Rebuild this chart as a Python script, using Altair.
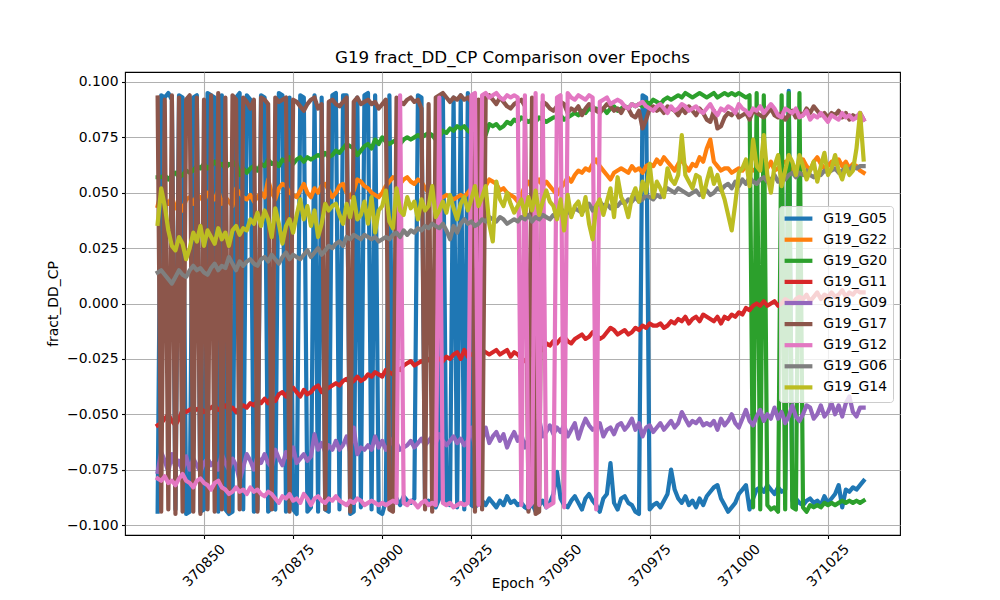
import altair as alt
import pandas as pd

EPOCHS = list(range(370837, 371036))
SERIES = ["G19_G05", "G19_G22", "G19_G20", "G19_G11", "G19_G09",
          "G19_G17", "G19_G12", "G19_G06", "G19_G14"]
COLORS = ["#1f77b4", "#ff7f0e", "#2ca02c", "#d62728", "#9467bd",
          "#8c564b", "#e377c2", "#7f7f7f", "#bcbd22"]
X_TICKS = [370850, 370875, 370900, 370925, 370950, 370975, 371000, 371025]
Y_TICKS = [-0.1, -0.075, -0.05, -0.025, 0.0, 0.025, 0.05, 0.075, 0.1]

# values in thousandths of fract_DD_CP, one per epoch
G05 = [-94, 94, 93, 95, 92, -93, 94, 93, -95, -94,
       93, 94, -94, -93, 95, 94, 93, -94, 94, -93,
       -95, -94, 93, 95, -93, 94, 92, -94, -93, 94,
       93, -94, -92, -93, 95, 94, -94, 93, -93, -95,
       94, 93, -94, -92, 94, -94, 93, -93, -94, 94,
       95, -93, 94, 94, -95, -94, 93, -92, 94, 95,
       -93, 94, -94, -95, -89, 94, -90, -88, -91, -87,
       -89, -90, -88, 94, 93, -91, -89, -90, -92, -88,
       94, -90, -91, 93, -92, 94, -93, 95, -91, -92,
       -90, -89, -91, -88, -90, -92, -89, -91, -87, -90,
       -89, -91, -90, -92, -93, -90, -94, -91, -89, -92,
       -90, -86, -76, -88, -91, -92, -89, -87, -90, -93,
       -88, -86, -89, -91, -94, -88, -86, -72, -90, -93,
       -88, -87, -90, -91, -94, -95, 94, 93, -93, -91,
       -90, -92, -89, -86, -75, -84, -88, -90, -87, -91,
       -89, -92, -88, -91, -87, -85, -83, -82, -88, -91,
       -94, -92, -90, -86, -84, -82, -93, -88, -84, -83,
       -85, -82, -84, -86, -83, -85, -84, 96, -89, -88,
       -90, -91, -89, -88, -90, -89, -91, -87, -90, -88,
       -86, -82, -92, -84, -85, -83, -84, -82, -80]

G22 = [44, 51, 47, 45, 48, 43, 46, 42, 47, 48,
       45, 49, 48, 46, 50, 49, 47, 51, 45, 48,
       46, 44, 52, 50, 48, 47, 49, 46, 48, 50,
       48, 56, 50, 47, 52, 54, 53, 50, 49, 48,
       51, 54, 50, 48, 52, 50, 53, 54, 51, 48,
       50, 53, 54, 50, 48, 51, 56, 55, 53, 52,
       50, 49, 48, 50, 53, 55, 57, 56, 54, 56,
       57, 55, 54, 56, 55, 52, 50, 49, 48, 47,
       48, 49, 48, 47, 48, 49, 48, 50, 52, 60,
       57, 55, 53, 56, 55, 54, 51, 52, 50, 49,
       48, 46, 49, 53, 55, 52, 54, 56, 53, 55,
       53, 51, 49, 52, 54, 57, 55, 58, 60, 59,
       61, 60, 63, 65, 62, 60, 58, 56, 59, 60,
       61, 60, 59, 62, 60, 61, 59, 62, 63, 62,
       65, 63, 66, 64, 62, 60, 63, 65, 62, 60,
       63, 62, 66, 64, 70, 74, 64, 62, 60, 61,
       61, 59, 60, 61, 60, 62, 61, 60, 61, 62,
       63, 61, 64, 60, 61, 63, 64, 62, 60, 61,
       63, 65, 62, 60, 64, 66, 63, 61, 62, 64,
       63, 65, 62, 64, 61, 63, 62, 60, 59]

G20 = [57, 57, 58, 56, 58, 59, 57, 58, 60, 59,
       60, 62, 61, 63, 61, 62, 64, 62, 63, 61,
       63, 62, 64, 58, 61, 59, 61, 62, 60, 63,
       62, 65, 63, 64, 62, 65, 64, 66, 63, 65,
       66, 64, 66, 65, 66, 67, 66, 68, 66, 67,
       69, 68, 70, 72, 71, 70, 67, 69, 71, 72,
       70, 74, 72, 75, 73, 72, 73, 74, 72, 74,
       75, 74, 75, 76, 75, 76, 77, 76, 74, 75,
       78, 77, 79, 78, 80, 79, 80, 78, 77, 80,
       82, 79, 76, 81, 80, 81, 79, 80, 82, 81,
       83, 82, 84, 83, 82, 83, 82, 84, 83, 82,
       83, 84, 84, 85, 83, 84, 85, 86, 85, 87,
       86, 88, 87, 88, 87, 88, 86, 88, 89, 87,
       88, 89, 88, 90, 89, 90, 89, 91, 90, 92,
       91, 90, 92, 93, 92, 93, 94, 93, 95, 94,
       93, 94, 95, 94, 93, 94, 95, 93, 94, 95,
       94, 95, 94, 95, 94, 93, 94, -92, 95, -93,
       94, -91, -93, -92, -94, 94, -93, 95, -92, -93,
       95, -92, -94, -91, -92, -91, -92, -90, -91, -90,
       -91, -90, -89, -90, -89, -90, -89, -90, -89]

G11 = [-55, -54, -52, -50, -53, -55, -52, -48, -49, -48,
       -47, -48, -47, -49, -48, -47, -46, -48, -47, -46,
       -48, -47, -49, -47, -46, -47, -45, -46, -44, -45,
       -43, -45, -42, -44, -41, -40, -42, -39, -38, -40,
       -42, -39, -41, -40, -38, -37, -40, -39, -38, -37,
       -36, -37, -35, -34, -36, -35, -33, -35, -34, -32,
       -33, -31, -32, -33, -30, -31, -32, -29, -30, -28,
       -27, -26, -28, -27, -26, -27, -25, -26, -24, -25,
       -26, -24, -25, -23, -22, -25, -21, -24, -23, -22,
       -23, -21, -22, -23, -22, -21, -23, -22, -21, -24,
       -22, -23, -25, -26, -24, -23, -20, -19, -21, -18,
       -19, -17, -18, -16, -15, -17, -18, -16, -15, -14,
       -16, -15, -13, -14, -16, -15, -13, -11, -12, -14,
       -13, -12, -14, -13, -11, -12, -10, -11, -9, -10,
       -10, -9, -11, -10, -8, -9, -7, -8, -6, -9,
       -7, -6, -8, -5, -6, -7, -8, -6, -9, -6,
       -7, -5, -6, -4, -5, -2, -3, -1, 0, -1,
       1, -1, 0, 1, -1, 0, 2, 1, 0, 2,
       3, 2, 4, 1, 3, 5, 2, 4, 3, 5,
       3, 4, 6, 3, 5, 4, 6, 5, 5]

G09 = [-76, -67, -71, -76, -68, -74, -71, -76, -69, -75,
       -70, -73, -76, -72, -70, -73, -71, -75, -68, -72,
       -75, -70, -73, -80, -74, -68, -71, -75, -69, -72,
       -68, -72, -74, -66, -70, -73, -67, -71, -65, -72,
       -70, -68, -71, -69, -59, -66, -63, -67, -64, -66,
       -62, -66, -64, -60, -67, -56, -68, -65, -66, -64,
       -66, -60, -65, -62, -66, -64, -61, -63, -66, -65,
       -64, -62, -65, -63, -61, -64, -62, -60, -63, -59,
       -62, -64, -62, -60, -63, -61, -64, -62, -56, -65,
       -60, -62, -56, -63, -60, -58, -62, -59, -65, -61,
       -58, -62, -59, -65, -61, -60, -57, -52, -60, -58,
       -55, -59, -56, -58, -55, -60, -57, -54, -61, -56,
       -52, -55, -57, -56, -54, -60, -57, -56, -59, -55,
       -54, -57, -55, -52, -57, -54, -60, -56, -55, -58,
       -56, -54, -57, -55, -53, -56, -54, -49, -52, -55,
       -53, -54, -52, -55, -54, -55, -53, -57, -52, -55,
       -53, -50, -54, -56, -52, -48, -53, -55, -51, -48,
       -53, -50, -52, -47, -52, -49, -54, -51, -46, -51,
       -53, -50, -46, -47, -52, -50, -46, -51, -49, -45,
       -50, -46, -51, -45, -42, -49, -51, -47, -47]

G17 = [93, -94, 92, -93, 94, -95, 93, -94, 92, 94,
       -94, 93, -95, 92, -93, 94, -94, 95, -93, 93,
       -94, 94, 92, -93, 93, 91, 88, 92, -94, 93,
       92, 90, -93, 93, 91, 92, 93, -94, 92, 91,
       89, 87, 90, 92, 93, 88, 90, -93, 91, 92,
       90, 89, 91, 93, -94, 91, 93, 90, 91, 92,
       90, 91, 88, 90, 92, -93, -94, 93, 91, 90,
       92, 93, 91, 92, 88, -93, 90, -94, 93, 94,
       95, 93, 91, 93, 92, 94, 92, 93, 91, -94,
       92, -93, 93, 94, 92, 90, 93, 91, 89, 88,
       90, 91, 92, 89, -94, 93, -95, -94, 91, 90,
       88, 87, 89, 91, 90, 86, 88, 87, 89, 85,
       88, 90, 89, 87, 86, 88, 90, 89, 87, 88,
       86, 89, 88, 85, 84, 87, 79, 83, 88, 89,
       87, 88, 86, 89, 88, 87, 85, 88, 86, 89,
       87, 85, 88, 86, 83, 82, 87, 79, 80, 84,
       86, 85, 87, 84, 85, 86, 83, 87, 86, 85,
       84, 86, 88, 85, 84, 86, 83, 85, 87, 84,
       86, 85, 88, 86, 89, 87, 85, 86, 84, 86,
       85, 87, 84, 86, 83, 85, 84, 86, 83]

G12 = [-79, -80, -78, -81, -80, -82, -79, -77, -80, -81,
       -83, -80, -79, -81, -82, -84, -81, -80, -83, -84,
       -86, -85, -83, -85, -84, -86, -83, -85, -84, -86,
       -87, -85, -86, -88, -90, -87, -88, -86, -89, -88,
       -90, -86, -88, -91, -88, -87, -89, -90, -88, -89,
       -87, -89, -90, -91, -89, -90, -88, -89, -91, -90,
       -89, -90, -91, -90, -91, -90, -89, -90, 94, -90,
       -91, -89, -90, -92, -90, -89, -91, -90, -91, 93,
       -90, -91, -90, -92, -91, -90, -91, -90, 94, 95,
       -91, 94, 95, 93, 94, 95, 93, 92, 94, 93,
       94, 93, -91, 94, -92, -90, 95, -91, 94, -92,
       -91, -90, 93, 94, -92, 95, 93, 92, 94, 93,
       92, 94, 93, -93, 91, 92, 93, 90, 91, 92,
       91, 89, 88, 90, 89, 90, 91, 89, 88, 87,
       89, 90, 88, 86, 89, 87, 88, 90, 89, 87,
       88, 89, 87, 86, 88, 90, 87, 85, 88, 87,
       89, 88, 86, 90, 88, 87, 85, 88, 87, 89,
       86, 88, 90, 88, 85, 84, 88, 87, 86, 88,
       84, 85, 87, 83, 85, 84, 86, 84, 82, 85,
       84, 83, 86, 84, 85, 83, 84, 86, 83]

G06 = [14, 15, 13, 11, 9, 12, 15, 13, 12, 15,
       17, 15, 16, 14, 13, 16, 18, 15, 17, 16,
       21, 18, 15, 19, 17, 19, 20, 18, 17, 20,
       21, 19, 22, 20, 18, 21, 23, 20, 22, 21,
       20, 22, 24, 21, 23, 25, 22, 24, 26, 25,
       27, 28, 26, 30, 29, 31, 30, 29, 31, 30,
       29, 30, 28, 29, 30, 29, 31, 32, 30, 33,
       31, 33, 32, 34, 33, 35, 34, 36, 35, 34,
       36, 33, 29, 35, 32, 36, 38, 36, 37, 35,
       36, 38, 37, 39, 38, 37, 39, 38, 36, 37,
       38, 37, 39, 38, 40, 37, 39, 38, 40, 39,
       38, 40, 39, 43, 41, 42, 40, 43, 42, 41,
       43, 45, 42, 44, 46, 44, 45, 43, 45, 44,
       46, 45, 47, 46, 48, 46, 47, 49, 48, 47,
       49, 48, 50, 52, 51, 50, 52, 51, 50, 49,
       50, 51, 49, 50, 51, 49, 50, 52, 51, 53,
       54, 52, 55, 53, 56, 54, 57, 55, 54, 56,
       57, 55, 56, 58, 55, 57, 56, 58, 59, 57,
       59, 58, 60, 58, 57, 59, 58, 60, 59, 60,
       61, 59, 60, 61, 60, 62, 61, 62, 62]

G14 = [36, 52, 44, 33, 26, 24, 30, 27, 20, 25,
       32, 28, 35, 26, 33, 30, 27, 34, 29, 32,
       26, 33, 35, 31, 34, 33, 38, 36, 41, 35,
       42, 38, 30, 43, 36, 27, 35, 38, 32, 40,
       47, 38, 44, 35, 42, 30, 36, 45, 42, 44,
       45, 40, 36, 45, 39, 48, 38, 40, 46, 36,
       48, 32, 42, 44, 51, 37, 34, 52, 42, 40,
       48, 43, 46, 38, 47, 42, 44, 53, 39, 42,
       46, 41, 49, 43, 38, 45, 48, 42, 47, 53,
       44, 48, 53, 36, 28, 55, 47, 44, 50, 45,
       41, 44, 47, 40, 48, 42, 51, 40, 46, 51,
       46, 44, 38, 47, 33, 49, 39, 44, 46, 40,
       48, 36, 29, 44, 47, 40, 46, 52, 39, 57,
       48, 45, 39, 48, 52, 46, 55, 50, 63, 48,
       55, 52, 48, 61, 56, 54, 58, 76, 58, 55,
       52, 58, 57, 48, 55, 61, 54, 58, 52, 47,
       40, 33, 45, 59, 61, 65, 53, 74, 62, 60,
       76, 58, 50, 62, 67, 53, 60, 67, 64, 58,
       67, 62, 56, 60, 64, 55, 62, 68, 58, 61,
       67, 60, 56, 62, 58, 60, 70, 86, 65]

VALUES = {"G19_G05": G05, "G19_G22": G22, "G19_G20": G20, "G19_G11": G11,
          "G19_G09": G09, "G19_G17": G17, "G19_G12": G12, "G19_G06": G06,
          "G19_G14": G14}

rows = []
for name in SERIES:
    vals = VALUES[name]
    assert len(vals) == len(EPOCHS), (name, len(vals))
    for e, v in zip(EPOCHS, vals):
        rows.append({"Epoch": e, "value": v / 1000.0, "series": name})
df = pd.DataFrame(rows)

FONT = "DejaVu Sans"

x_enc = alt.X("Epoch:Q",
              scale=alt.Scale(domain=[370827.85, 371045.2], nice=False, zero=False),
              axis=alt.Axis(values=X_TICKS, format="d", labelAngle=-45,
                            labelAlign="center", labelBaseline="middle",
                            labelPadding=27, tickSize=3.5, title="Epoch",
                            titleY=41, titleBaseline="top",
                            labelOverlap=False, labelFlush=False))
y_enc = alt.Y("value:Q",
              scale=alt.Scale(domain=[-0.1045, 0.1045], nice=False, zero=False),
              axis=alt.Axis(values=Y_TICKS, format=".3f", tickSize=3.5,
                            labelPadding=3.5, title="fract_DD_CP",
                            titlePadding=5.6))
legend = alt.Legend(title=None, orient="none", legendX=654, legendY=134,
                    symbolType="M-2.93,0L2.93,0", symbolSize=90,
                    symbolStrokeWidth=4.2, symbolOffset=6.9, labelOffset=17.7,
                    rowPadding=3.1, labelFont=FONT, labelFontSize=13.9,
                    labelColor="black", padding=5.6,
                    fillColor="rgba(255,255,255,0.8)", strokeColor="#cccccc",
                    cornerRadius=3)
color_enc = alt.Color("series:N", scale=alt.Scale(domain=SERIES, range=COLORS),
                      legend=legend)

base = alt.Chart(df)
layers = []
for name in SERIES:
    layers.append(
        base.transform_filter(alt.datum.series == name)
        .mark_line(strokeWidth=4.2, strokeJoin="round", strokeCap="square")
        .encode(x=x_enc, y=y_enc, color=color_enc)
    )

chart = (
    alt.layer(*layers)
    .properties(
        width=775, height=463,
        title=alt.TitleParams("G19 fract_DD_CP Comparison over Epochs",
                              font=FONT, fontSize=16.7, fontWeight="normal",
                              color="black", anchor="middle",
                              baseline="alphabetic", offset=8.3, dy=16),
        padding={"left": 117, "top": 64, "right": 92, "bottom": 57},
        autosize=alt.AutoSizeParams(type="none"),
    )
    .configure_axis(labelFont=FONT, labelFontSize=13.9, labelColor="black",
                    titleFont=FONT, titleFontSize=13.9, titleFontWeight="normal",
                    titleColor="black", tickColor="black", tickWidth=1.1,
                    gridColor="#b0b0b0", gridWidth=1.1, gridOpacity=1,
                    domain=False)
    .configure_view(stroke="black", strokeWidth=1.1)
)

chart.save("out.html", embed_options={"renderer": "svg", "actions": False})
